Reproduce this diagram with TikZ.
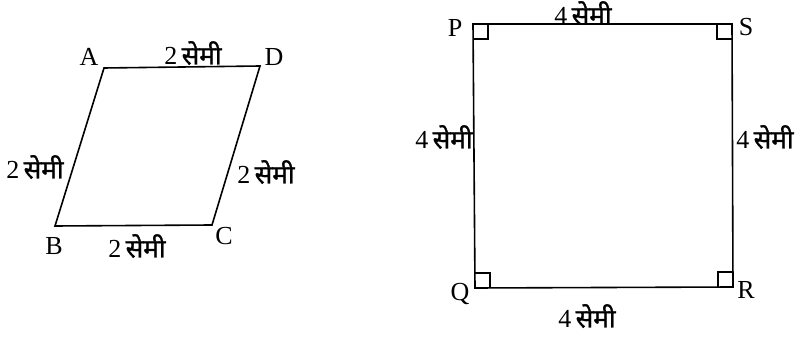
\documentclass[tikz,border=0pt]{standalone}
\usepackage{fontspec}
\setmainfont{Liberation Serif}
\newfontfamily\devfont[Script=Devanagari, FakeBold=1.2]{Noto Sans}
\usetikzlibrary{calc}
\newcommand\sem[1]{#1\,{\devfont सेमी}}

\begin{document}
\begin{tikzpicture}[
  x=0.75pt, y=-0.75pt,
  font=\fontsize{19.5}{22}\selectfont,
  side/.style={line width=1.2pt, line join=miter},
  vlabel/.style={inner sep=0pt},
  len/.style={inner sep=0pt},
  rmark/.style={line width=0.9pt},
]
\useasboundingbox (0,0) rectangle (796,338);

% ---------------- the rhombus ----------------
\coordinate (A) at (104, 68);
\coordinate (D) at (260, 66);
\coordinate (C) at (212, 225);
\coordinate (B) at (55, 226);
\draw[side] (A) -- (D) -- (C) -- (B) -- cycle;
\node[vlabel] (lA) at (89, 57)  {A};
\node[vlabel] (lD) at (274, 57) {D};
\node[vlabel] (lB) at (54, 246) {B};
\node[vlabel] (lC) at (224, 236) {C};
\node[len] (ad) at (193, 53)  {\sem{2}};
\node[len] (ab) at (35, 167)  {\sem{2}};
\node[len] (dc) at (266, 172) {\sem{2}};
\node[len] (bc) at (137, 246) {\sem{2}};

% ---------------- the square ----------------
\coordinate (P) at (473, 24);
\coordinate (S) at (732, 24);
\coordinate (R) at (733, 287);
\coordinate (Q) at (475, 288);
\draw[side] (P) -- (S) -- (R) -- (Q) -- cycle;
\def\rs{15}
\draw[rmark] ($(P)+(\rs,0)$) -- ($(P)+(\rs,\rs)$) -- ($(P)+(0,\rs)$);
\draw[rmark] ($(S)+(-\rs,0)$) -- ($(S)+(-\rs,\rs)$) -- ($(S)+(0,\rs)$);
\draw[rmark] ($(R)+(-\rs,0)$) -- ($(R)+(-\rs,-\rs)$) -- ($(R)+(0,-\rs)$);
\draw[rmark] ($(Q)+(\rs,0)$) -- ($(Q)+(\rs,-\rs)$) -- ($(Q)+(0,-\rs)$);
\node[vlabel] (lP) at (455, 28)  {P};
\node[vlabel] (lS) at (746, 27)  {S};
\node[vlabel] (lQ) at (460, 294) {Q};
\node[vlabel] (lR) at (746, 290) {R};
\node[len] (ps) at (583, 13)  {\sem{4}};
\node[len] (pq) at (444, 137) {\sem{4}};
\node[len] (sr) at (765, 137) {\sem{4}};
\node[len] (qr) at (587, 316) {\sem{4}};

\end{tikzpicture}
\end{document}
